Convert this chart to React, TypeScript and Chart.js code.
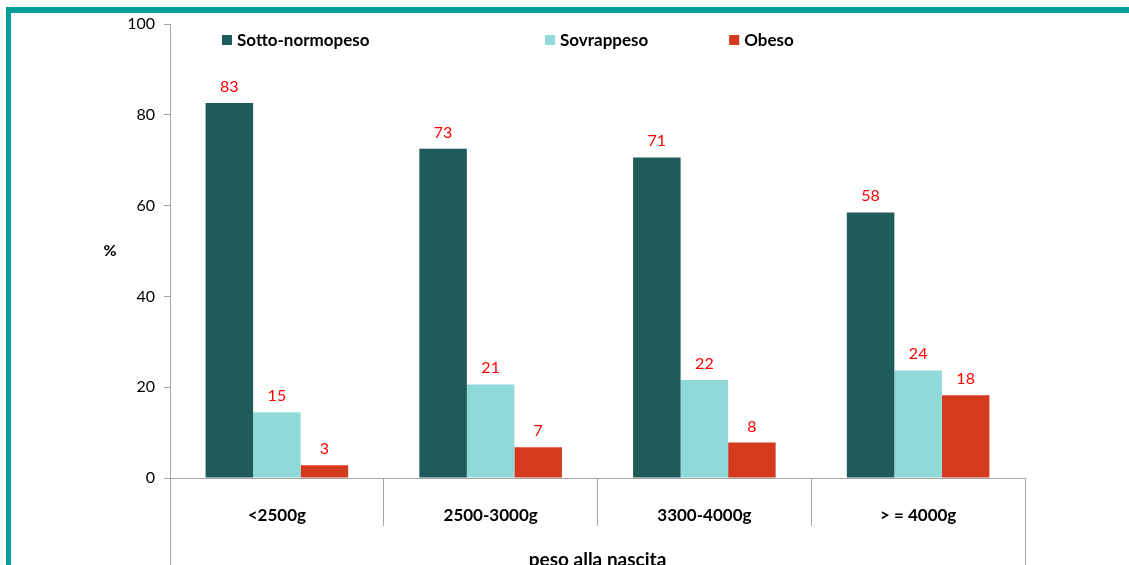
import React, { useEffect, useRef } from "react";
import { Chart, registerables } from "chart.js";

Chart.register(...registerables);

const categories = ["<2500g", "2500-3000g", "3300-4000g", "> = 4000g"];
const seriesNames = ["Sotto-normopeso", "Sovrappeso", "Obeso"];
const sottoNormopeso = [82.6, 72.5, 70.6, 58.5];
const sovrappeso = [14.5, 20.6, 21.6, 23.7];
const obeso = [2.8, 6.8, 7.8, 18.2];
const sottoLabels = ["83", "73", "71", "58"];
const sovraLabels = ["15", "21", "22", "24"];
const obesoLabels = ["3", "7", "8", "18"];
const yTicks = [0, 20, 40, 60, 80, 100];
const xAxisTitle = "peso alla nascita";
const yAxisTitle = "%";

const seriesColors = ["#1F5B5B", "#8FDAD8", "#D43B1E"];
const FONT = "Lato, 'Open Sans', sans-serif";
const AXIS_GRAY = "#A6A6A6";
const FRAME = "#039E99";

const align = (p: number) => Math.round(p - 0.5) + 0.5;

const extras = {
  id: "extras",
  beforeDraw(chart: any) {
    const ctx = chart.ctx;
    ctx.save();
    ctx.fillStyle = "#ffffff";
    ctx.fillRect(0, 0, chart.width, chart.height);
    ctx.fillStyle = FRAME;
    ctx.fillRect(6, 7, chart.width - 6, 6);
    ctx.fillRect(6, 7, 5, chart.height - 7);
    ctx.restore();
  },
  afterDraw(chart: any) {
    const ctx = chart.ctx;
    const area = chart.chartArea;
    const labelSets = [sottoLabels, sovraLabels, obesoLabels];
    ctx.save();
    // value labels
    ctx.fillStyle = "#FF0000";
    ctx.font = `16px ${FONT}`;
    ctx.textAlign = "center";
    ctx.textBaseline = "alphabetic";
    chart.data.datasets.forEach((_: any, di: number) => {
      const meta = chart.getDatasetMeta(di);
      meta.data.forEach((bar: any, i: number) => {
        ctx.fillText(labelSets[di][i], bar.x, bar.y - 11);
      });
    });
    // extended outer axis lines
    ctx.strokeStyle = AXIS_GRAY;
    ctx.lineWidth = 1;
    ctx.beginPath();
    ctx.moveTo(align(area.left), area.bottom);
    ctx.lineTo(align(area.left), chart.height);
    ctx.moveTo(align(area.right), area.bottom);
    ctx.lineTo(align(area.right), chart.height);
    ctx.stroke();
    // legend
    const w = area.right - area.left;
    const legendPos = [0.0608, 0.4386, 0.654];
    ctx.font = `bold 17px ${FONT}`;
    ctx.textAlign = "left";
    ctx.textBaseline = "middle";
    seriesNames.forEach((name, i) => {
      const x = area.left + legendPos[i] * w;
      ctx.fillStyle = seriesColors[i];
      ctx.fillRect(x, 35, 10, 10);
      ctx.fillStyle = "#000";
      ctx.fillText(name, x + 15, 41);
    });
    // axis titles
    ctx.font = `bold 16px ${FONT}`;
    ctx.textAlign = "center";
    ctx.textBaseline = "middle";
    ctx.fillText(yAxisTitle, 110, (area.top + area.bottom) / 2);
    ctx.font = `bold 19px ${FONT}`;
    ctx.textBaseline = "alphabetic";
    ctx.fillText(xAxisTitle, (area.left + area.right) / 2, chart.height + 1);
    ctx.restore();
  },
};

export default function App() {
  const ref = useRef<HTMLCanvasElement>(null);
  useEffect(() => {
    if (!ref.current) return;
    const chart = new Chart(ref.current, {
      type: "bar",
      data: {
        labels: categories,
        datasets: [
          { label: seriesNames[0], data: sottoNormopeso, backgroundColor: seriesColors[0] },
          { label: seriesNames[1], data: sovrappeso, backgroundColor: seriesColors[1] },
          { label: seriesNames[2], data: obeso, backgroundColor: seriesColors[2] },
        ],
      },
      options: {
        responsive: false,
        animation: false,
        layout: { padding: { left: 0, right: 104, top: 24, bottom: 0 } },
        datasets: { bar: { barPercentage: 1, categoryPercentage: 0.667 } },
        plugins: { legend: { display: false }, tooltip: { enabled: false }, title: { display: false } },
        scales: {
          x: {
            type: "category",
            offset: true,
            grid: { offset: true, drawOnChartArea: false, tickLength: 48, color: AXIS_GRAY },
            border: { color: AXIS_GRAY },
            ticks: { padding: -21, color: "#000", font: { family: FONT, size: 17, weight: "bold" }, maxRotation: 0 },
            afterFit: (s: any) => { s.height = 87; },
          },
          y: {
            min: 0,
            max: 100,
            afterBuildTicks: (s: any) => { s.ticks = yTicks.map((v) => ({ value: v })); },
            grid: { drawOnChartArea: false, tickLength: 6, color: AXIS_GRAY },
            border: { color: AXIS_GRAY },
            ticks: { padding: 9, color: "#000", font: { family: FONT, size: 16 } },
            afterFit: (s: any) => { s.width = 170; },
          },
        },
      },
      plugins: [extras],
    });
    (document as any).fonts?.ready?.then(() => chart.update());
    return () => chart.destroy();
  }, []);
  return (
    <div style={{ position: "fixed", left: 0, top: 0, width: 1129, height: 565 }}>
      <canvas ref={ref} width={1129} height={565} style={{ display: "block" }} />
    </div>
  );
}
